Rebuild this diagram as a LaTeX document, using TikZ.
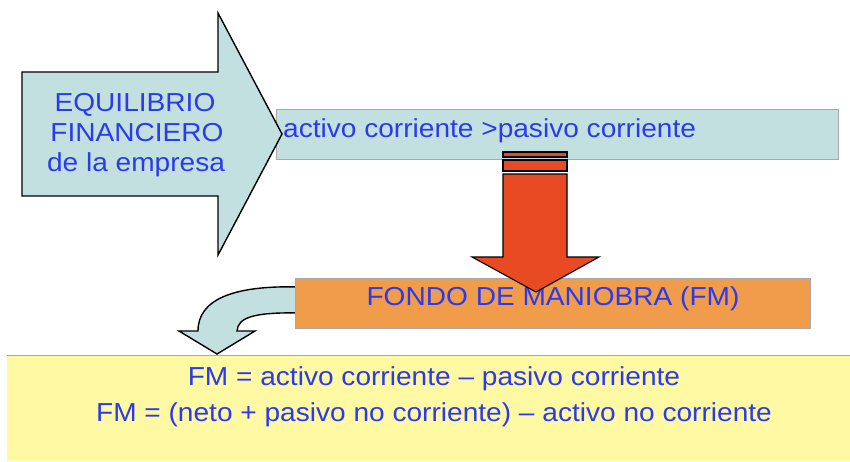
\documentclass[tikz,border=0pt]{standalone}
\usepackage{fontspec}
\setmainfont{Liberation Sans}[FakeStretch=1.08]
\definecolor{lblue}{HTML}{C3E0E1}
\definecolor{fmorange}{HTML}{F19C4A}
\definecolor{redarr}{HTML}{E84A23}
\definecolor{pyellow}{HTML}{FFF9A3}
\definecolor{txtblue}{HTML}{2B3AEC}
\definecolor{edgegray}{HTML}{A8A8A8}
\tikzset{
  txt/.style={text=txtblue, inner sep=0pt, font=\fontsize{26}{30}\selectfont},
  blockbox/.style={draw=edgegray, line width=0.8pt, inner sep=0pt, anchor=north west},
  bigarrow/.style={draw=black, line width=1.4pt, line join=miter, fill=lblue},
  redblock/.style={draw=black, line width=1.1pt, line join=miter, fill=redarr},
}
\begin{document}
\begin{tikzpicture}[x=1pt,y=-1pt]
\useasboundingbox (0,0) rectangle (850,461);
% curved arrow (behind the orange box)
\draw[bigarrow] (300,287) .. controls (232,285) and (198,300) .. (198,331)
  -- (179,331) -- (217,354) -- (255,331) -- (237,331)
  .. controls (238,318) and (252,312) .. (300,313) -- cycle;
% top box
\node[blockbox, fill=lblue, minimum width=562pt, minimum height=50pt] (cond) at (275.7,109) {};
\node[txt, anchor=base west] (condtxt) at (283,137) {activo corriente >pasivo corriente};
% big arrow
\draw[bigarrow] (22,72) -- (218,72) -- (218,13) -- (282,134) -- (218,255) -- (218,196) -- (22,196) -- cycle;
\node[txt, anchor=base] (eq1) at (135,111.7) {EQUILIBRIO};
\node[txt, anchor=base] (eq2) at (137,141.7) {FINANCIERO};
\node[txt, anchor=base] (eq3) at (136,171.7) {de la empresa};
% orange box
\node[blockbox, fill=fmorange, minimum width=515pt, minimum height=50pt] (fm) at (295,277.7) {};
\node[txt, anchor=base] (fmtxt) at (553,305.7) {FONDO DE MANIOBRA (FM)};
% red arrow
\draw[redblock] (503,152) rectangle (567,157);
\draw[redblock] (503,160) rectangle (567,171);
\draw[redblock] (503,174) -- (567,174) -- (567,257) -- (599,257) -- (536,292) -- (472,257) -- (503,257) -- cycle;
% yellow box
\fill[pyellow] (7,355) rectangle (850,461);
\draw[edgegray, line width=0.8pt] (7,355) -- (850,355);
\node[txt, anchor=base] (fm1) at (434,385) {FM = activo corriente – pasivo corriente};
\node[txt, anchor=base] (fm2) at (434,421.7) {FM = (neto + pasivo no corriente) – activo no corriente};
\end{tikzpicture}
\end{document}
